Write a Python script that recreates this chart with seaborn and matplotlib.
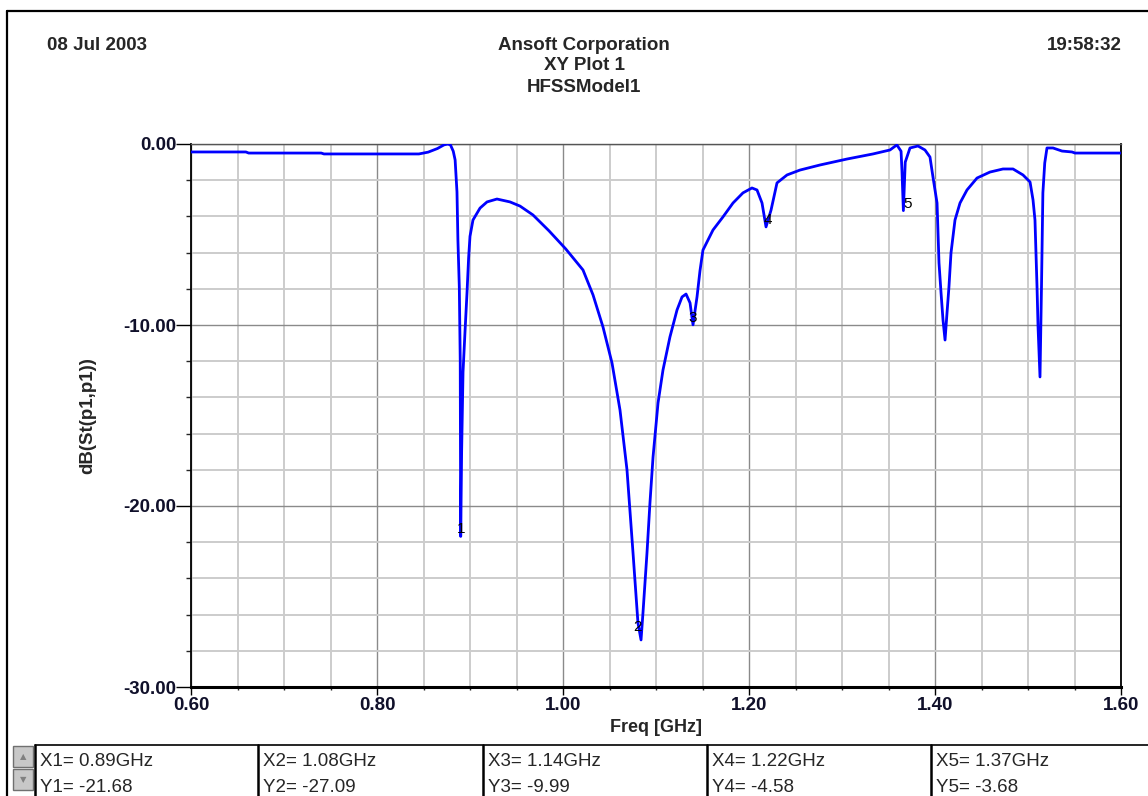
import numpy as np
import pandas as pd
import seaborn as sns
import matplotlib.pyplot as plt
from matplotlib.lines import Line2D
from matplotlib.patches import Rectangle
from matplotlib.ticker import MultipleLocator, FormatStrFormatter

# trace: frequency in GHz, dB(St(p1,p1))
freq = [0.600, 0.659, 0.662, 0.740, 0.743, 0.845, 0.855, 0.865, 0.872, 0.876,
        0.879, 0.882, 0.884, 0.886, 0.887, 0.8885, 0.8895, 0.8900, 0.8910, 0.8925,
        0.8946, 0.8968, 0.8985, 0.9000, 0.9032, 0.9108, 0.9183, 0.9290, 0.9430, 0.9538,
        0.9677, 0.9850, 1.0030, 1.0215, 1.0323, 1.0430, 1.0527, 1.0613, 1.0688, 1.0753,
        1.0806, 1.0839, 1.0860, 1.0903, 1.0935, 1.0968, 1.1022, 1.1075, 1.1150, 1.1226,
        1.1280, 1.1323, 1.1366, 1.1398, 1.1441, 1.1473, 1.1505, 1.1613, 1.1720, 1.1828,
        1.1935, 1.2032, 1.2086, 1.2140, 1.2183, 1.2237, 1.2301, 1.2409, 1.2548, 1.2763,
        1.3054, 1.3333, 1.3516, 1.3590, 1.3635, 1.3645, 1.3660, 1.3680, 1.3731, 1.3817,
        1.3892, 1.3946, 1.3978, 1.4022, 1.4043, 1.4065, 1.4086, 1.4108, 1.4129, 1.4150,
        1.4172, 1.4215, 1.4269, 1.4344, 1.4452, 1.4591, 1.4731, 1.4839, 1.4946, 1.5022,
        1.5054, 1.5075, 1.5097, 1.5108, 1.5129, 1.5145, 1.5160, 1.5180, 1.5204, 1.5269,
        1.5366, 1.5473, 1.5505, 1.6000]
db = [-0.44, -0.44, -0.50, -0.50, -0.55, -0.55, -0.45, -0.25, -0.05, 0.00,
      -0.05, -0.40, -0.88, -2.65, -5.30, -7.90, -12.00, -21.68, -17.00, -12.60,
      -10.40, -8.20, -6.30, -5.10, -4.20, -3.54, -3.20, -3.04, -3.20, -3.43,
      -3.92, -4.80, -5.80, -6.96, -8.34, -10.11, -12.10, -14.70, -18.00, -22.60,
      -26.46, -27.40, -25.90, -22.60, -19.83, -17.30, -14.30, -12.49, -10.66, -9.17,
      -8.45, -8.29, -8.78, -9.99, -8.45, -7.00, -5.86, -4.75, -4.03, -3.26,
      -2.70, -2.43, -2.54, -3.26, -4.58, -3.65, -2.15, -1.71, -1.44, -1.16,
      -0.83, -0.55, -0.33, -0.05, -0.40, -1.50, -3.68, -1.00, -0.22, -0.11,
      -0.33, -0.72, -1.82, -3.26, -6.57, -8.23, -9.72, -10.83, -9.34, -7.90,
      -6.02, -4.20, -3.26, -2.54, -1.88, -1.55, -1.38, -1.38, -1.71, -2.10,
      -3.09, -4.20, -7.90, -10.10, -12.87, -7.90, -2.70, -1.05, -0.22, -0.22,
      -0.39, -0.44, -0.50, -0.50]

# markers shown in the table under the plot
marker_freq = [0.89, 1.08, 1.14, 1.22, 1.37]
marker_db = [-21.68, -27.09, -9.99, -4.58, -3.68]

x_ticks = [0.6, 0.8, 1.0, 1.2, 1.4, 1.6]
y_ticks = [-30, -20, -10, 0]

W, H = 1148, 796

sns.set_style('white')
plt.rcParams['font.family'] = ['Liberation Sans', 'DejaVu Sans']

df = pd.DataFrame({'freq': freq, 'db': db})

fig = plt.figure(figsize=(W / 100, H / 100), dpi=100)
ax = fig.add_axes([191 / W, 1 - 687 / H, 930 / W, 543 / H])

sns.lineplot(data=df, x='freq', y='db', ax=ax, color='#0000ff', lw=2.0,
             sort=False, estimator=None, zorder=5)

ax.set_xlim(0.6, 1.6)
ax.set_ylim(-30, 0)
ax.set_xticks(x_ticks)
ax.set_yticks(y_ticks)
ax.xaxis.set_minor_locator(MultipleLocator(0.05))
ax.yaxis.set_minor_locator(MultipleLocator(2))
ax.xaxis.set_major_formatter(FormatStrFormatter('%.2f'))
ax.yaxis.set_major_formatter(FormatStrFormatter('%.2f'))
ax.set_xlabel('')
ax.set_ylabel('')

# grid: light minor lines, darker major lines
ax.grid(which='minor', color='#cccccc', lw=1.4)
ax.grid(which='major', color='#8a8a8a', lw=1.0)
ax.set_axisbelow(True)

for s in ['left', 'right']:
    ax.spines[s].set_color('black')
    ax.spines[s].set_linewidth(1.3)
ax.spines['bottom'].set_color('black')
ax.spines['bottom'].set_linewidth(2.2)
ax.spines['top'].set_color('#555555')
ax.spines['top'].set_linewidth(1.0)

ax.tick_params(axis='y', which='major', direction='out', length=10.5, width=1.0,
               pad=0, labelsize=13.5, colors='black', left=True)
ax.tick_params(axis='y', which='minor', direction='out', length=3.6, width=1.0, left=True)
ax.tick_params(axis='x', which='major', direction='out', length=6, width=1.0,
               pad=1, labelsize=13.5, colors='black', bottom=True)
ax.tick_params(axis='x', which='minor', direction='out', length=2.5, width=1.0, bottom=True)
for lab in ax.get_xticklabels() + ax.get_yticklabels():
    lab.set_fontweight('bold')
    lab.set_color('#10102a')

# marker numbers at the marker points
for i, (mf, md) in enumerate(zip(marker_freq, marker_db)):
    ax.text(mf, md, str(i + 1), ha='center', va='bottom', fontsize=11,
            color='black', zorder=6)

# header texts
fig.text(47 / W, 1 - 45 / H, '08 Jul 2003', ha='left', va='center', fontsize=13.5, fontweight='bold')
fig.text(1122 / W, 1 - 45 / H, '19:58:32', ha='right', va='center', fontsize=13.5, fontweight='bold')
fig.text(584 / W, 1 - 45 / H, 'Ansoft Corporation', ha='center', va='center', fontsize=13.5, fontweight='bold')
fig.text(584 / W, 1 - 66 / H, 'XY Plot 1', ha='center', va='center', fontsize=13.5, fontweight='bold')
fig.text(584 / W, 1 - 88 / H, 'HFSSModel1', ha='center', va='center', fontsize=13.5, fontweight='bold')

fig.text(88 / W, 1 - 416 / H, 'dB(St(p1,p1))', rotation=90, ha='center', va='center',
         fontsize=13.5, fontweight='bold')
fig.text(656 / W, 1 - 727 / H, 'Freq [GHz]', ha='center', va='center', fontsize=13, fontweight='bold')

# outer frame of the report window
fig.add_artist(Line2D([7 / W, 1], [1 - 11 / H, 1 - 11 / H], color='black', lw=1.6))
fig.add_artist(Line2D([7 / W, 7 / W], [0, 1 - 11 / H], color='black', lw=1.6))

# marker table
tab_top = 1 - 745 / H
fig.add_artist(Line2D([35 / W, 1], [tab_top, tab_top], color='black', lw=1.2))
cell_left = [35, 258, 483, 707, 931]
for cl in cell_left:
    fig.add_artist(Line2D([cl / W, cl / W], [0, tab_top], color='black', lw=1.8))
for i, cl in enumerate(cell_left):
    fig.text((cl + 5) / W, 1 - 761 / H, 'X%d= %.2fGHz' % (i + 1, marker_freq[i]),
             ha='left', va='center', fontsize=13.5)
    fig.text((cl + 5) / W, 1 - 787 / H, 'Y%d= %.2f' % (i + 1, marker_db[i]),
             ha='left', va='center', fontsize=13.5)

# scroll buttons
for y0, sym in [(746, '\u25b2'), (769, '\u25bc')]:
    fig.add_artist(Rectangle((13 / W, 1 - (y0 + 21) / H), 20 / W, 21 / H,
                             facecolor='#c8c8c8', edgecolor='#707070', lw=1.0))
    fig.text(23 / W, 1 - (y0 + 10.5) / H, sym, ha='center', va='center',
             fontsize=6, color='#808080', family='DejaVu Sans')

fig.savefig('out.png', dpi=100)
